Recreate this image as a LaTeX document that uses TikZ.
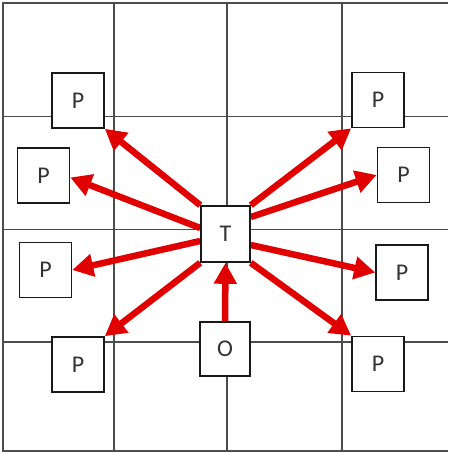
\documentclass[tikz,border=0pt]{standalone}
\usepackage{fontspec}
\setmainfont{Carlito}
\usetikzlibrary{arrows.meta,calc}
\pgfdeclarelayer{gridlayer}
\pgfdeclarelayer{arrowlayer}
\pgfsetlayers{gridlayer,arrowlayer,main}
\definecolor{pushred}{RGB}{225,0,0}
\begin{document}
\begin{tikzpicture}[x=1pt,y=-1pt,
  gridline/.style={draw=black!70, line width=1.6pt},
  cell/.style={draw=black!90, line width=1.6pt, fill=white,
    minimum width=52pt, minimum height=55pt, inner sep=0pt,
    font=\fontsize{24}{24}\selectfont, text=black!80},
  push/.style={draw=pushred, line width=6.5pt,
    -{Triangle[length=21pt,width=22pt]}}]
\useasboundingbox (0,0) rectangle (448,453);

% 4x4 grid of cells
\begin{pgfonlayer}{gridlayer}
  \draw[gridline] (448,3) -- (3,3) -- (3,451) -- (448,451);
  \foreach \gx in {114,227,342} \draw[gridline] (\gx,3) -- (\gx,451);
  \foreach \gy in {116.5,229.5,342} \draw[gridline] (3,\gy) -- (448,\gy);
\end{pgfonlayer}

% boxes
\node[cell, minimum width=49pt, minimum height=56pt] (T) at (225.5,234) {T};
\node[cell, minimum width=50pt, minimum height=54pt] (O) at (225,349) {O};
\node[cell] (P1) at (78,100.5) {P};
\node[cell] (P2) at (43.5,175.5) {P};
\node[cell] (P3) at (45.5,270) {P};
\node[cell] (P4) at (78,364.5) {P};
\node[cell] (P5) at (378,100) {P};
\node[cell] (P6) at (403.5,175) {P};
\node[cell] (P7) at (402,272.5) {P};
\node[cell] (P8) at (378,364) {P};

% movement arrows
\begin{pgfonlayer}{arrowlayer}
  \draw[push] (T.north west) -- (P1.south east);
  \draw[push] ($(T.west)+(0,-6)$) -- ($(P2.east)+(0,2)$);
  \draw[push] ($(T.west)+(0,7)$) -- (P3.east);
  \draw[push] (T.south west) -- (P4.north east);
  \draw[push] (T.north east) -- (P5.south west);
  \draw[push] ($(T.east)+(0,-17)$) -- (P6.west);
  \draw[push] ($(T.east)+(0,11)$) -- (P7.west);
  \draw[push] (T.south east) -- (P8.north west);
  \draw[push] (O.north) -- (T.south);
\end{pgfonlayer}
\end{tikzpicture}
\end{document}
